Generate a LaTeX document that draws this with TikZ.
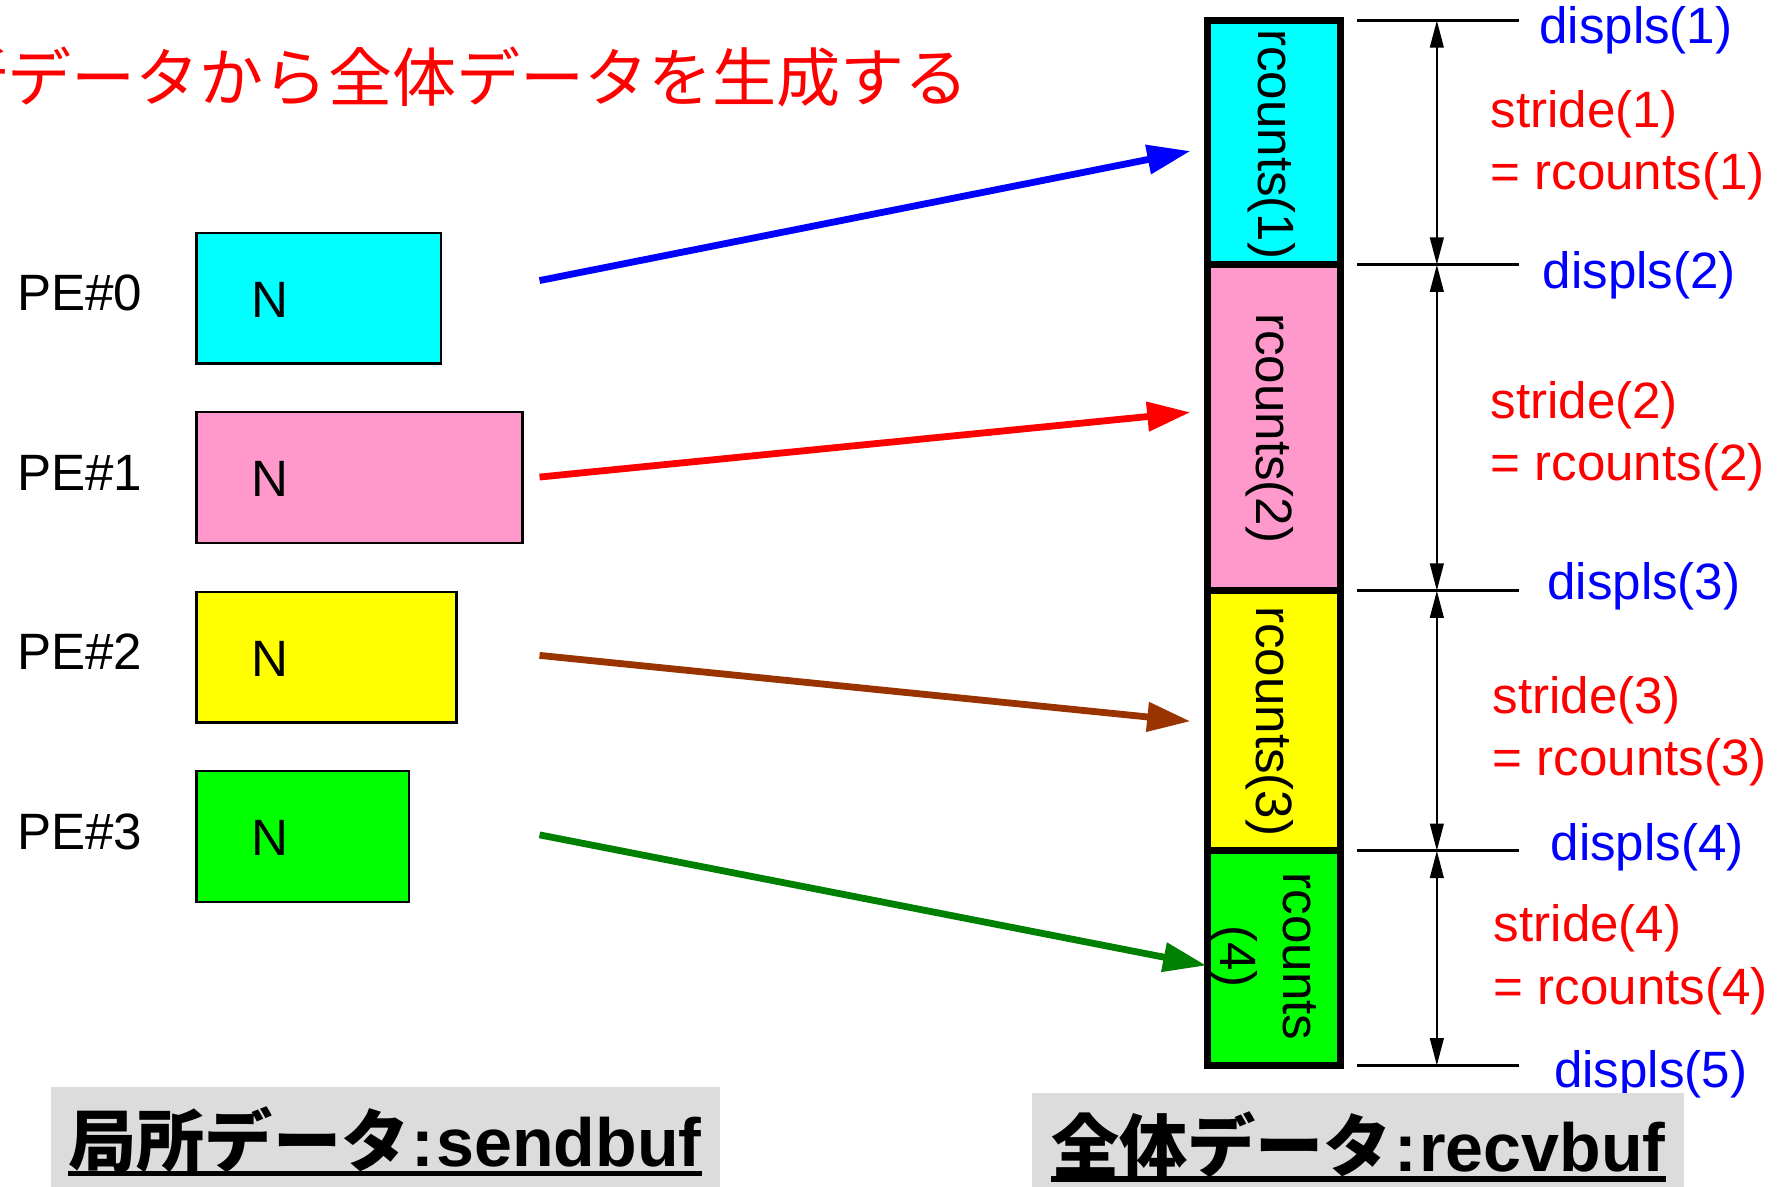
\documentclass[tikz,border=0pt]{standalone}
\usepackage{fontspec}
\setmainfont{Liberation Sans}
\newfontfamily\cjk{Noto Sans CJK JP}
\usetikzlibrary{arrows.meta}
\definecolor{cy}{RGB}{0,255,255}
\definecolor{pk}{RGB}{255,153,204}
\definecolor{ye}{RGB}{255,255,0}
\definecolor{gr}{RGB}{0,255,0}
\definecolor{brownarr}{RGB}{153,51,0}
\definecolor{greenarr}{RGB}{0,128,0}
\definecolor{lgray}{RGB}{220,220,220}
\definecolor{dblue}{RGB}{0,0,255}
\definecolor{dred}{RGB}{255,0,0}
\begin{document}
\begin{tikzpicture}[x=1pt,y=-1pt,
  big/.style={font=\fontsize{45}{55}\selectfont, inner sep=0},
  pebox/.style={draw=black, line width=2, minimum height=115, inner sep=0},
  seg/.style={draw=black, line width=6, minimum width=117, inner sep=0},
  flow/.style={line width=6, -{Triangle[length=38,width=25]}},
  dimarr/.style={line width=2, {Triangle[length=24,width=12]}-{Triangle[length=24,width=12]}},
  tickline/.style={line width=2.5},
  graybox/.style={fill=lgray, inner sep=0},
  bottomtext/.style={font=\fontsize{60}{64}\selectfont\bfseries, inner sep=0},
]
\useasboundingbox (0,0) rectangle (1568,1045);
\clip (0,0) rectangle (1568,1045);

% title
\node[anchor=east, inner sep=0, text=dred, font=\fontsize{56.4}{60}\selectfont\cjk] (title) at (853,68) {局所データから全体データを生成する};

% left boxes
\node[pebox, fill=cy, minimum width=215] (b0) at (280.5,262.5) {};
\node[pebox, fill=pk, minimum width=287] (b1) at (316.5,420.5) {};
\node[pebox, fill=ye, minimum width=229] (b2) at (287.5,578.5) {};
\node[pebox, fill=gr, minimum width=187] (b3) at (266.5,736.5) {};
\foreach \i/\y in {0/264,1/422,2/580,3/738}{
  \node[big] (n\i) at (238,\y) {N};
}
\foreach \i/\y in {0/258,1/416,2/574,3/732}{
  \node[big, anchor=west] (pe\i) at (15,\y) {PE\#\i};
}

% column
\node[seg, fill=cy, minimum height=215] (s1) at (1121.5,125.5) {};
\node[seg, fill=pk, minimum height=287] (s2) at (1121.5,376.5) {};
\node[seg, fill=ye, minimum height=229] (s3) at (1121.5,634.5) {};
\node[seg, fill=gr, minimum height=189] (s4) at (1121.5,843.5) {};
\node[big, rotate=-90] (r1) at (1120,127) {rcounts(1)};
\node[big, rotate=-90] (r2) at (1118,377) {rcounts(2)};
\node[big, rotate=-90] (r3) at (1118,635) {rcounts(3)};
\node[big, rotate=-90, align=center] (r4) at (1112,842) {rcounts\\(4)};

% flow arrows
\coordinate (f0) at (475,247); \coordinate (t0) at (1048,133);
\coordinate (f1) at (475,420); \coordinate (t1) at (1048,363);
\coordinate (f2) at (475,577); \coordinate (t2) at (1048,635);
\coordinate (f3) at (475,735); \coordinate (t3) at (1062,850);
\draw[flow, dblue] (f0) -- (t0);
\draw[flow, dred] (f1) -- (t1);
\draw[flow, brownarr] (f2) -- (t2);
\draw[flow, greenarr] (f3) -- (t3);

% dimension lines
\foreach \k/\y in {1/18,2/233,3/520,4/749,5/938}{
  \coordinate (tl\k) at (1195,\y);
  \coordinate (tr\k) at (1337,\y);
  \coordinate (d\k) at (1265,\y);
  \draw[tickline] (tl\k) -- (tr\k);
}
\draw[dimarr] (d1) -- (d2);
\draw[dimarr] (d2) -- (d3);
\draw[dimarr] (d3) -- (d4);
\draw[dimarr] (d4) -- (d5);

% labels
\node[big, anchor=west, text=dblue] (ds1) at (1355,27) {displs(1)};
\node[big, anchor=west, text=dblue] (ds2) at (1358,242) {displs(2)};
\node[big, anchor=west, text=dblue] (ds3) at (1362,516) {displs(3)};
\node[big, anchor=west, text=dblue] (ds4) at (1365,746) {displs(4)};
\node[big, anchor=west, text=dblue] (ds5) at (1368,946) {displs(5)};
\node[big, anchor=west, text=dred, align=left] (st1) at (1312,128) {stride(1)\\= rcounts(1)};
\node[big, anchor=west, text=dred, align=left] (st2) at (1312,384) {stride(2)\\= rcounts(2)};
\node[big, anchor=west, text=dred, align=left] (st3) at (1314,644) {stride(3)\\= rcounts(3)};
\node[big, anchor=west, text=dred, align=left] (st4) at (1315,845) {stride(4)\\= rcounts(4)};

% bottom boxes
\node[graybox, minimum width=589, minimum height=100, anchor=north west] (gl) at (45,957) {};
\node[graybox, minimum width=574, minimum height=100, anchor=north west] (gr) at (908,962) {};
\node[bottomtext, anchor=base] (lt) at (339,1027) {{\cjk 局所データ}\hspace{2pt}:\hspace{2pt}sendbuf};
\node[bottomtext, anchor=base] (rt) at (1196,1031) {{\cjk 全体データ}\hspace{2pt}:\hspace{2pt}recvbuf};
\draw[line width=4.5] ([yshift=-6pt]lt.base west) -- ([yshift=-6pt]lt.base east);
\draw[line width=4.5] ([yshift=-7pt]rt.base west) -- ([yshift=-7pt]rt.base east);
\end{tikzpicture}
\end{document}
